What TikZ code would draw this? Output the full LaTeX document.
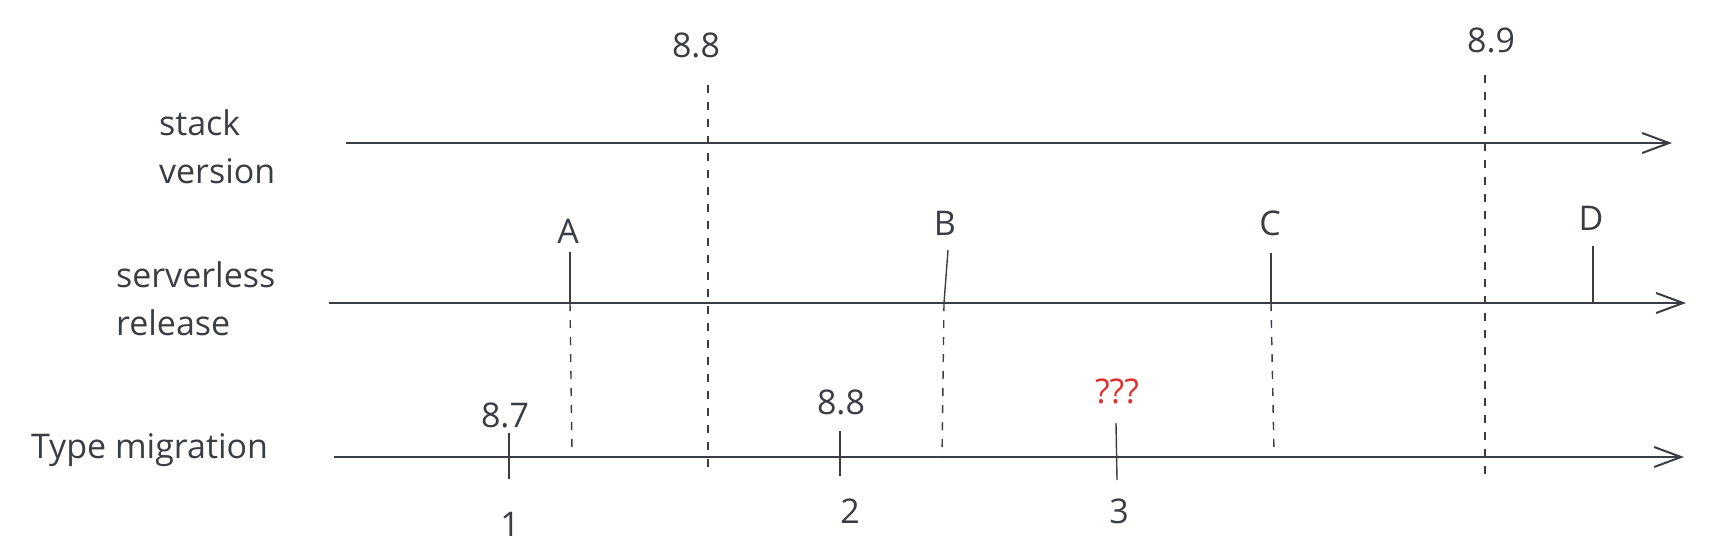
\documentclass[tikz,border=0pt]{standalone}
\usepackage{fontspec}
\setmainfont{Open Sans}
\usetikzlibrary{arrows.meta}
\definecolor{ink}{RGB}{58,62,68}
\definecolor{alarm}{RGB}{224,49,49}

\begin{document}
\begin{tikzpicture}[x=0.5pt,y=-0.5pt,
  every node/.style={text=ink,font=\fontsize{17}{24}\selectfont},
  axis/.style={ink,line width=1pt,-{Straight Barb[length=13.5pt,width=10pt,line width=1pt]}},
  tick/.style={ink,line width=0.7pt},
  guide/.style={ink,line width=0.7pt,dash pattern=on 4pt off 4.5pt}]
\useasboundingbox (0,0) rectangle (1718,554);
% row titles
\node [anchor=west,align=left] (stack) at (152,147) {stack\\version};
\node [anchor=west,align=left] (serverless) at (109,299) {serverless\\release};
\node [anchor=west] (migration) at (24,450) {Type migration};
% time lines
\coordinate (s0) at (346,143); \coordinate (s1) at (1672,143);
\coordinate (r0) at (329,303); \coordinate (r1) at (1686,303);
\coordinate (m0) at (334,457); \coordinate (m1) at (1684,457);
\draw [axis] (s0)--(s1);
\draw [axis] (r0)--(r1);
\draw [axis] (m0)--(m1);
% stack versions
\node (v88) at (696,45) {8.8};
\node (v89) at (1491,40) {8.9};
\coordinate (v88a) at (708,85); \coordinate (v88b) at (708,470);
\coordinate (v89a) at (1485,75); \coordinate (v89b) at (1485,475);
\draw [guide] (v88a)--(v88b);
\draw [guide] (v89a)--(v89b);
% serverless releases
\node (A) at (568,231) {A};
\node (B) at (945,223) {B};
\node (C) at (1270,223) {C};
\node (D) at (1591,218) {D};
\coordinate (A1) at (570,252); \coordinate (A2) at (570,303); \coordinate (A3) at (572,454);
\coordinate (B1) at (948,250); \coordinate (B2) at (944,303); \coordinate (B3) at (942,458);
\coordinate (C1) at (1271,253); \coordinate (C2) at (1271,303); \coordinate (C3) at (1274,453);
\coordinate (D1) at (1593,246); \coordinate (D2) at (1593,303);
\draw [tick] (A1)--(A2);
\draw [tick] (B1)--(B2);
\draw [tick] (C1)--(C2);
\draw [tick] (D1)--(D2);
\draw [guide] (A2)--(A3);
\draw [guide] (B2)--(B3);
\draw [guide] (C2)--(C3);
% type migrations
\node (t87) at (505,415) {8.7};
\node (t88) at (841,402) {8.8};
\node [text=alarm] (tq) at (1117,391) {???};
\node (n1) at (510,524) {1};
\node (n2) at (850,511) {2};
\node (n3) at (1119,511) {3};
\coordinate (t1a) at (509,433); \coordinate (t1b) at (509,479);
\coordinate (t2a) at (840,431); \coordinate (t2b) at (840,476);
\coordinate (t3a) at (1116,423); \coordinate (t3b) at (1117,480);
\draw [tick] (t1a)--(t1b);
\draw [tick] (t2a)--(t2b);
\draw [tick] (t3a)--(t3b);
\end{tikzpicture}
\end{document}
